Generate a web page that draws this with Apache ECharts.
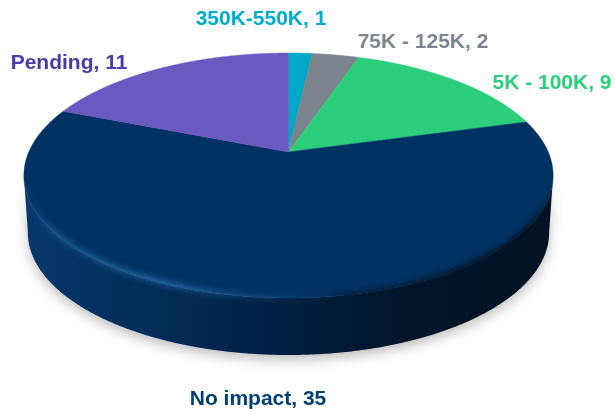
<!DOCTYPE html>
<html><head><meta charset="utf-8">
<style>html,body{margin:0;padding:0;background:#fff}#c{width:615px;height:412px}</style>
<script src="https://cdn.jsdelivr.net/npm/echarts@6/dist/echarts.min.js"></script>
</head><body><div id="c"></div>
<script>
const categories = ['350K-550K', '75K - 125K', '5K - 100K', 'No impact', 'Pending'];
const values = [1, 2, 9, 35, 11];
const sliceColors = ['#00a8c8', '#7b838d', '#2bce7a', '#003263', '#6a59c0'];
const labelColors = ['#00aecb', '#7d8590', '#2bd07c', '#004070', '#4b3aa8'];
const labelAnchors = [[261, 19], [423, 42], [552, 83], [258, 399], [69, 63]];

// Perspective of the pie plane onto the page
const CX = 288.5, APEX = 152, K = 259.7, A = 88.8, C = -0.192;
const DEPTH = 57, BOTTOM_SCALE = 0.985;
const FRONT_FROM = 101, FRONT_TO = 259;
const total = values.reduce((a, b) => a + b, 0);

function project(deg, r) {
  const t = deg * Math.PI / 180, x = r * Math.sin(t), y = -r * Math.cos(t), d = 1 + C * y;
  return [CX + K * x / d, (A * y + APEX) / d];
}
function rim(from, to) {
  const pts = [], n = Math.max(2, Math.ceil(Math.abs(to - from) * 2));
  for (let i = 0; i <= n; i++) pts.push(project(from + (to - from) * i / n, 1));
  return pts;
}
function lower(pts) {
  return pts.map(p => [CX + (p[0] - CX) * BOTTOM_SCALE, p[1] + DEPTH]);
}
function hgrad(stops) {
  return { type: 'linear', x: 0, y: 0, x2: 1, y2: 0, colorStops: stops.map(s => ({ offset: s[0], color: s[1] })) };
}
const rimLight = a => hgrad([[0, 'rgba(30,90,150,0)'], [0.06, `rgba(35,100,160,${a * 0.8})`], [0.28, `rgba(45,115,175,${a})`], [0.5, `rgba(25,75,125,${a * 0.35})`], [0.62, `rgba(0,20,40,${a * 0.7})`], [0.94, `rgba(0,15,30,${a * 1.2})`], [1, 'rgba(0,15,30,0)']]);

function renderItem(params, api) {
  const i = params.dataIndex;
  let before = 0;
  for (let k = 0; k < i; k++) before += values[k];
  const v = api.value(0);
  const a0 = before / total * 360, a1 = (before + v) / total * 360;
  const children = [];
  const f0 = Math.max(a0, FRONT_FROM), f1 = Math.min(a1, FRONT_TO);
  const overlays = [];
  if (f1 > f0) {
    const top = rim(f0, f1);
    const wall = top.concat(lower(top).reverse());
    children.push({
      type: 'polygon', shape: { points: wall },
      style: {
        fill: hgrad([[0, '#07376b'], [0.22, '#032d5a'], [0.48, '#001f42'], [0.72, '#001529'], [1, '#001224']]),
        shadowBlur: 12, shadowColor: 'rgba(0,0,0,0.25)', shadowOffsetY: 5
      }
    });
    const band = rim(f0 + 5, f1 - 5);
    [[14, 0.1], [9, 0.16], [5, 0.24], [2, 0.32]].forEach(s => overlays.push({
      type: 'polyline', shape: { points: band.map(p => [p[0], p[1] - 1]) },
      style: { fill: null, stroke: rimLight(s[1]), lineWidth: s[0] }
    }));
  }
  const points = [project(0, 0)].concat(rim(a0, a1));
  children.push({
    type: 'polygon', shape: { points },
    style: { fill: sliceColors[i], stroke: sliceColors[i], lineWidth: 0.5 }
  });
  overlays.forEach(o => children.push(o));
  children.push({
    type: 'text',
    style: {
      x: labelAnchors[i][0], y: labelAnchors[i][1], text: categories[i] + ', ' + v,
      fill: labelColors[i], font: 'bold 21px "Liberation Sans", Arial, sans-serif',
      textAlign: 'center', textVerticalAlign: 'middle'
    }
  });
  return { type: 'group', children };
}

const chart = echarts.init(document.getElementById('c'), null, { renderer: 'canvas' });
chart.setOption({
  animation: false,
  backgroundColor: '#fff',
  series: [{
    type: 'custom', coordinateSystem: 'none', silent: true, clip: false,
    renderItem, data: values.map(v => [v])
  }]
});
</script></body></html>
